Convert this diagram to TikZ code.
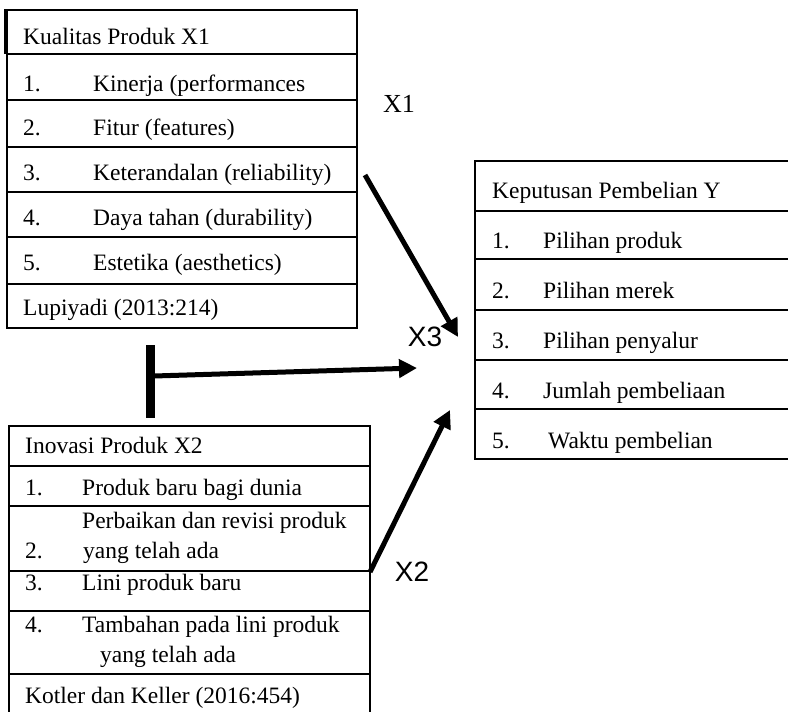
\documentclass[tikz,border=0pt]{standalone}
\usepackage{fontspec}
\setmainfont{Liberation Serif}
\newfontfamily\arialf{Liberation Sans}
\usetikzlibrary{arrows.meta}
\begin{document}
\begin{tikzpicture}[x=1pt,y=-1pt,
  box/.style={line width=2pt},
  txt/.style={anchor=base west, inner sep=0pt, font=\fontsize{23.5pt}{28pt}\selectfont},
  arr/.style={line width=5pt, -{Triangle[length=18pt,width=18pt]}},
  lbls/.style={inner sep=0pt, font=\arialf\fontsize{28pt}{32pt}\selectfont},
  lblr/.style={inner sep=0pt, font=\fontsize{26pt}{30pt}\selectfont}]
\useasboundingbox (0,0) rectangle (788,712);

% ---------- Box X1 ----------
\draw[box] (7,10) rectangle (357,328);
\foreach \yy in {54,100,147,192,237,284} \draw[box] (7,\yy) -- (357,\yy);
\draw[line width=3.5pt] (6,9) -- (6,54);
\node[txt] (k0) at (23,45) {Kualitas Produk X1};
\node[txt] (k1n) at (23,91) {1.};
\node[txt] (k1) at (93,91) {Kinerja (performances};
\node[txt] (k2n) at (23,135) {2.};
\node[txt] (k2) at (93,135) {Fitur (features)};
\node[txt] (k3n) at (23,180) {3.};
\node[txt] (k3) at (93,180) {Keterandalan (reliability)};
\node[txt] (k4n) at (23,225) {4.};
\node[txt] (k4) at (93,225) {Daya tahan (durability)};
\node[txt] (k5n) at (23,270) {5.};
\node[txt] (k5) at (93,270) {Estetika (aesthetics)};
\node[txt] (k6) at (23,315) {Lupiyadi (2013:214)};

% ---------- Box X2 ----------
\draw[box] (9,713) -- (9,426) -- (370,426) -- (370,713);
\foreach \yy in {466,506,571,611,674} \draw[box] (9,\yy) -- (370,\yy);
\node[txt] (i0) at (25,453) {Inovasi Produk X2};
\node[txt] (i1n) at (25,495) {1.};
\node[txt] (i1) at (82,495) {Produk baru bagi dunia};
\node[txt] (i2a) at (82,528) {Perbaikan dan revisi produk};
\node[txt] (i2n) at (25,558) {2.};
\node[txt] (i2b) at (83,558) {yang telah ada};
\node[txt] (i3n) at (25,590) {3.};
\node[txt] (i3) at (82,590) {Lini produk baru};
\node[txt] (i4n) at (25,632) {4.};
\node[txt] (i4a) at (82,632) {Tambahan pada lini produk};
\node[txt] (i4b) at (100,662) {yang telah ada};
\node[txt] (i5) at (25,703) {Kotler dan Keller (2016:454)};

% ---------- Box Y ----------
\draw[box] (790,161) -- (475,161) -- (475,459) -- (790,459);
\foreach \yy in {211,259,310,360,409} \draw[box] (475,\yy) -- (790,\yy);
\node[txt] (y0) at (492,198) {Keputusan Pembelian Y};
\node[txt] (y1n) at (492,248) {1.};
\node[txt] (y1) at (543,248) {Pilihan produk};
\node[txt] (y2n) at (492,298) {2.};
\node[txt] (y2) at (543,298) {Pilihan merek};
\node[txt] (y3n) at (492,348) {3.};
\node[txt] (y3) at (543,348) {Pilihan penyalur};
\node[txt] (y4n) at (492,398) {4.};
\node[txt] (y4) at (543,398) {Jumlah pembeliaan};
\node[txt] (y5n) at (492,448) {5.};
\node[txt] (y5) at (548,448) {Waktu pembelian};

% ---------- Connectors ----------
\coordinate (a1s) at (365,175);
\coordinate (a1t) at (458,337);
\draw[arr] (a1s) -- (a1t);

\coordinate (a2s) at (370,572);
\coordinate (a2t) at (450,410);
\draw[arr] (a2s) -- (a2t);

\coordinate (bt) at (150,345);
\coordinate (bb) at (150,418);
\draw[line width=9pt] (bt) -- (bb);
\coordinate (a3s) at (154,376);
\coordinate (a3t) at (417,368);
\draw[arr] (a3s) -- (a3t);

% ---------- Labels ----------
\node[lblr] (lx1) at (399,104) {X1};
\node[lbls] (lx3) at (425,337) {X3};
\node[lbls] (lx2) at (412,572) {X2};
\end{tikzpicture}
\end{document}
